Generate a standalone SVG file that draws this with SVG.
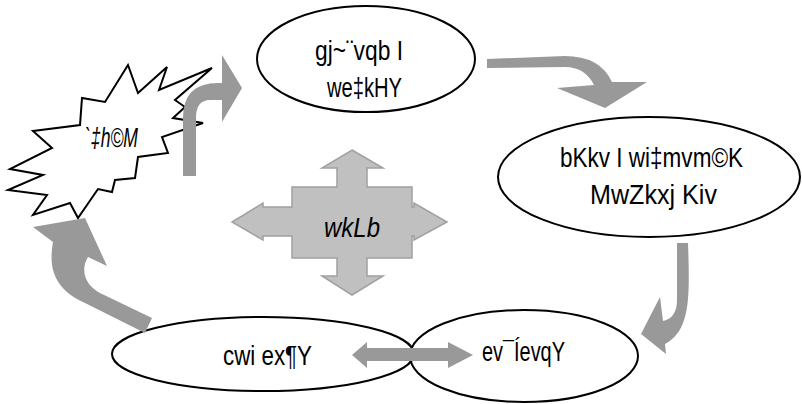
<svg xmlns="http://www.w3.org/2000/svg" width="802" height="404" viewBox="0 0 802 404">
<style>
.node{fill:none;stroke:#000;stroke-width:2}
.burst{fill:#fff;stroke:#000;stroke-width:2;stroke-linejoin:miter}
.arr{fill:#999999;stroke:none}
.cross{fill:#c0c0c0;stroke:#a0a0a0;stroke-width:1.5}
.t{font-family:'Liberation Sans Narrow','Liberation Sans',Arial,sans-serif;font-size:27px;fill:#000}
.i{font-style:italic}
</style>
<rect width="802" height="404" fill="#fff"/>
<g id="node-top">
<ellipse class="node" cx="366" cy="59" rx="109" ry="53"/>
<text class="t" x="315" y="60" textLength="88" lengthAdjust="spacingAndGlyphs">gj~¨vqb I</text>
<text class="t" x="327" y="97" textLength="75" lengthAdjust="spacingAndGlyphs">we‡kHY</text>
</g>
<g id="node-right">
<ellipse class="node" cx="649" cy="177" rx="151" ry="60"/>
<text class="t" x="560" y="167" textLength="183" lengthAdjust="spacingAndGlyphs">bKkv I wi‡mvm©K</text>
<text class="t" x="590" y="204" textLength="127" lengthAdjust="spacingAndGlyphs">MwZkxj Kiv</text>
</g>
<g id="node-bottom-right">
<ellipse class="node" cx="524" cy="356" rx="114" ry="46"/>
<text class="t" x="482" y="361" textLength="83" lengthAdjust="spacingAndGlyphs">ev¯ÍevqY</text>
</g>
<g id="node-bottom-left">
<ellipse class="node" cx="263" cy="354" rx="151" ry="37"/>
<text class="t" x="223" y="365" textLength="89" lengthAdjust="spacingAndGlyphs">cwi ex¶Y</text>
</g>
<g id="node-burst">
<polygon class="burst" points="128,65 138,93 167,67 159,90 212,68 175,100 185,107 173,118 203,123 162,137 168,153 138,157 135,178 115,180 112,192 98,189 78,218 70,203 33,215 47,195 8,190 43,175 10,169 52,148 33,131 80,125 82,98 105,102"/>
<text class="t i" x="85" y="147" textLength="53" lengthAdjust="spacingAndGlyphs">`‡h©M</text>
</g>
<g id="node-center">
<polygon class="cross" points="352,150 383,168 367,168 367,187 412,187 412,207 414,207 414,203 447,222 414,240 414,236 412,236 412,258 367,258 367,276 383,276 352,295 322,276 337,276 337,258 292,258 292,236 263,236 263,240 232,222 263,203 263,207 292,207 292,187 337,187 337,168 322,168"/>
<text class="t i" x="324" y="237" textLength="56" lengthAdjust="spacingAndGlyphs">wkLb</text>
</g>
<g id="connectors">
<path class="arr" d="M183,176 L183,118 Q183,83 218,83 L222,83 L222,55 L242,88 L222,122 L222,100 L210,100 Q196,100 196,118 L196,176 Z"/>
<path class="arr" d="M487,59 L565,56 Q600,56 612,82 L647,82 L605,108 L557,88 L594,85 Q585,67 565,67 L487,68 Z"/>
<path class="arr" d="M677,243 L688,243 C690,300 690,330 665,344 L666,354 L641,334 L660,297 L663,321 Q677,318 677,300 Z"/>
<path class="arr" d="M352,355 L367,342 L367,348 L448,348 L448,342 L473,355 L448,368 L448,361 L367,361 L367,368 Z"/>
<path class="arr" d="M53,242 C48,270 55,290 87,304 L145,333 L152,318 L100,293 C85,285 80,270 88,257 L107,266 L85,218 L33,227 Z"/>
</g>
</svg>
